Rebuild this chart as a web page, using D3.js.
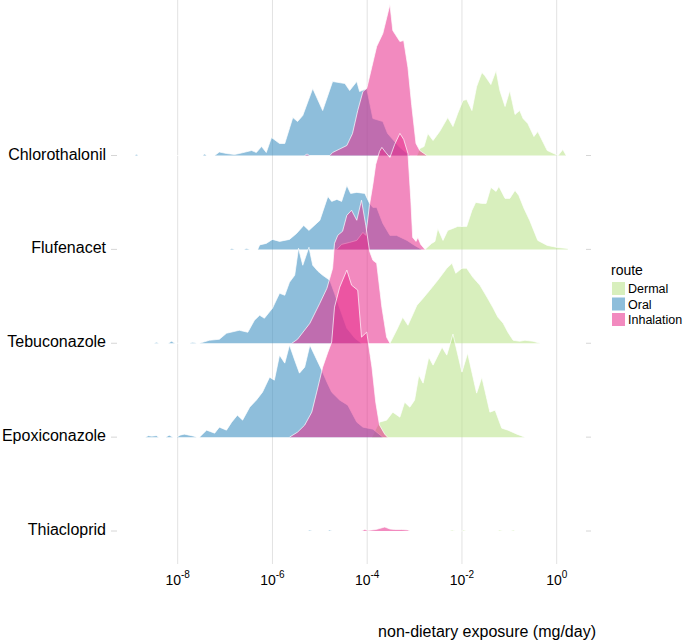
<!DOCTYPE html>
<html>
<head>
<meta charset="utf-8">
<script src="https://cdn.jsdelivr.net/npm/d3@7"></script>
<style>
  body { margin: 0; background: #fff; }
  svg { display: block; font-family: "Liberation Sans", Arial, sans-serif; }
</style>
</head>
<body>
<svg id="chart" width="685" height="640"></svg>
<script>
// categories, top to bottom
const compounds = ["Chlorothalonil", "Flufenacet", "Tebuconazole", "Epoxiconazole", "Thiacloprid"];
const routes = ["Dermal", "Oral", "Inhalation"];
const routeColors = ["#b8e186", "#4393c3", "#e7298a"];
const xTickExponents = [-8, -6, -4, -2, 0];

// [log10 exposure (mg/day), scaled density]
const chlorothalonilDermal = [[-2.95,0],[-2.89,.07],[-2.80,.09],[-2.72,.22],[-2.61,.15],[-2.47,.24],[-2.30,.38],[-2.19,.29],[-2.09,.42],[-1.98,.55],[-1.90,.56],[-1.79,.45],[-1.69,.69],[-1.58,.83],[-1.52,.80],[-1.39,.71],[-1.28,.85],[-1.20,.65],[-1.09,.49],[-0.99,.65],[-0.88,.41],[-0.78,.45],[-0.71,.37],[-0.61,.32],[-0.48,.19],[-0.40,.24],[-0.20,.05],[-0.04,.015],[0.03,0],[0.13,.06],[0.20,0]];
const chlorothalonilOral = [[-8.90,0],[-8.87,.015],[-8.84,0],[-7.47,0],[-7.43,.015],[-7.39,0],[-7.22,0],[-7.12,.035],[-6.97,.02],[-6.80,.01],[-6.70,.02],[-6.44,.05],[-6.34,.03],[-6.23,.09],[-6.13,.03],[-6.02,.18],[-5.85,.12],[-5.74,.12],[-5.57,.38],[-5.47,.34],[-5.36,.40],[-5.15,.67],[-4.94,.45],[-4.73,.74],[-4.47,.72],[-4.37,.65],[-4.22,.74],[-4.16,.64],[-4.01,.67],[-3.88,.37],[-3.67,.34],[-3.57,.22],[-3.31,.08],[-3.10,0]];
const chlorothalonilInhalation = [[-5.32,0],[-5.27,.015],[-5.22,0],[-4.79,0],[-4.73,.03],[-4.43,.10],[-4.31,.22],[-4.20,.45],[-4.09,.64],[-4.01,.67],[-3.90,.89],[-3.80,1.09],[-3.67,1.22],[-3.52,1.51],[-3.46,1.25],[-3.31,1.14],[-3.23,1.15],[-3.14,.88],[-3.06,.50],[-2.97,.12],[-2.89,.05],[-2.74,0]];

const flufenacetDermal = [[-2.78,0],[-2.64,.06],[-2.57,.08],[-2.51,.21],[-2.40,.09],[-2.30,.19],[-2.19,.21],[-2.09,.23],[-1.90,.23],[-1.79,.39],[-1.71,.47],[-1.58,.46],[-1.49,.46],[-1.39,.62],[-1.28,.58],[-1.22,.63],[-1.09,.51],[-0.99,.51],[-0.88,.59],[-0.80,.54],[-0.69,.41],[-0.57,.29],[-0.40,.09],[-0.20,.04],[0.01,.02],[0.22,.01],[0.24,0]];
const flufenacetOral = [[-6.90,0],[-6.86,.01],[-6.80,0],[-6.60,0],[-6.55,.01],[-6.48,0],[-6.31,0],[-6.27,.045],[-6.13,.06],[-6.00,.10],[-5.85,.08],[-5.64,.10],[-5.49,.16],[-5.34,.24],[-5.23,.19],[-5.00,.29],[-4.83,.53],[-4.75,.48],[-4.64,.50],[-4.54,.48],[-4.43,.64],[-4.35,.56],[-4.22,.57],[-4.05,.56],[-3.95,.46],[-3.88,.42],[-3.80,.42],[-3.67,.26],[-3.52,.14],[-3.38,.14],[-3.16,.09],[-3.00,.04],[-2.85,0]];
const flufenacetInhalation = [[-4.64,0],[-4.54,.05],[-4.37,.07],[-4.22,.09],[-4.09,.17],[-4.03,.14],[-3.95,.45],[-3.88,.65],[-3.82,.85],[-3.74,.98],[-3.69,1.02],[-3.61,.97],[-3.52,.92],[-3.42,1.05],[-3.31,1.16],[-3.23,1.10],[-3.14,.96],[-3.08,.50],[-3.04,.12],[-2.97,.08],[-2.93,.12],[-2.87,.05],[-2.78,0]];

const tebuconazoleDermal = [[-3.52,0],[-3.38,.13],[-3.25,.26],[-3.14,.18],[-2.95,.38],[-2.82,.45],[-2.68,.53],[-2.51,.63],[-2.32,.75],[-2.21,.80],[-2.13,.70],[-2.00,.75],[-1.90,.75],[-1.77,.66],[-1.62,.58],[-1.47,.46],[-1.35,.36],[-1.24,.26],[-1.13,.20],[-1.03,.11],[-0.92,.03],[-0.78,.02],[-0.67,.03],[-0.50,.02],[-0.35,0]];
const tebuconazoleOral = [[-8.50,0],[-8.45,.01],[-8.40,0],[-8.20,0],[-8.13,.02],[-8.06,0],[-7.75,0],[-7.68,.01],[-7.60,0],[-7.54,0],[-7.33,.03],[-7.12,.04],[-6.97,.10],[-6.70,.13],[-6.52,.11],[-6.38,.23],[-6.27,.28],[-6.17,.25],[-6.00,.35],[-5.85,.50],[-5.74,.48],[-5.64,.61],[-5.53,.68],[-5.45,.95],[-5.36,.78],[-5.23,.96],[-5.15,.78],[-5.04,.72],[-4.94,.68],[-4.79,.63],[-4.69,.50],[-4.58,.35],[-4.43,.15],[-4.26,.05],[-4.12,0]];
const tebuconazoleInhalation = [[-5.59,0],[-5.47,.04],[-5.21,.20],[-5.00,.40],[-4.85,.55],[-4.79,.65],[-4.73,.75],[-4.69,1.00],[-4.62,1.08],[-4.52,1.12],[-4.43,1.28],[-4.33,1.33],[-4.22,1.23],[-4.12,1.43],[-4.03,1.18],[-3.95,.92],[-3.88,.83],[-3.80,.80],[-3.69,.36],[-3.59,.06],[-3.52,0]];

const epoxiconazoleDermal = [[-3.90,0],[-3.82,.08],[-3.74,.15],[-3.59,.17],[-3.46,.25],[-3.31,.20],[-3.21,.35],[-3.10,.30],[-3.00,.37],[-2.91,.62],[-2.82,.54],[-2.70,.80],[-2.61,.72],[-2.42,.90],[-2.32,.82],[-2.19,1.03],[-2.00,.65],[-1.88,.84],[-1.69,.44],[-1.58,.60],[-1.41,.25],[-1.30,.27],[-1.16,.09],[-1.03,.07],[-0.84,.03],[-0.67,0]];
const epoxiconazoleOral = [[-8.68,0],[-8.62,.015],[-8.55,.01],[-8.45,.015],[-8.40,0],[-8.25,0],[-8.18,.02],[-8.10,0],[-8.02,0],[-7.95,.02],[-7.86,.03],[-7.76,.02],[-7.66,.01],[-7.60,0],[-7.54,0],[-7.39,.07],[-7.22,.04],[-7.12,.10],[-6.97,.07],[-6.86,.15],[-6.74,.22],[-6.63,.17],[-6.48,.30],[-6.34,.37],[-6.21,.45],[-6.06,.60],[-5.96,.57],[-5.85,.82],[-5.74,.74],[-5.64,.92],[-5.53,.77],[-5.43,.64],[-5.32,.70],[-5.21,.92],[-5.11,.82],[-4.96,.67],[-4.85,.55],[-4.75,.45],[-4.58,.37],[-4.41,.32],[-4.22,.15],[-4.09,.10],[-3.88,.08],[-3.67,0]];
const epoxiconazoleInhalation = [[-5.64,0],[-5.47,.05],[-5.32,.12],[-5.17,.25],[-5.04,.50],[-4.94,.70],[-4.83,.85],[-4.75,.95],[-4.69,1.30],[-4.58,1.50],[-4.43,1.67],[-4.33,1.52],[-4.20,1.47],[-4.12,1.00],[-4.01,1.05],[-3.90,.70],[-3.82,.35],[-3.74,.12],[-3.63,.03],[-3.57,0]];

const thiaclopridDermal = [[-2.25,0],[-2.21,.01],[-2.15,0],[-2.00,0],[-1.96,.01],[-1.92,0],[-1.24,0],[-1.20,.01],[-1.15,0],[-0.96,0],[-0.92,.01],[-0.88,0]];
const thiaclopridOral = [[-5.25,0],[-5.21,.01],[-5.17,0],[-4.83,0],[-4.79,.01],[-4.75,0]];
const thiaclopridInhalation = [[-4.12,0],[-4.05,.015],[-3.99,.005],[-3.90,.01],[-3.82,.015],[-3.74,.025],[-3.63,.04],[-3.52,.02],[-3.42,.015],[-3.27,.015],[-3.14,.01],[-3.10,0]];

const series = [
  { compound: "Chlorothalonil", values: [chlorothalonilDermal, chlorothalonilOral, chlorothalonilInhalation] },
  { compound: "Flufenacet", values: [flufenacetDermal, flufenacetOral, flufenacetInhalation] },
  { compound: "Tebuconazole", values: [tebuconazoleDermal, tebuconazoleOral, tebuconazoleInhalation] },
  { compound: "Epoxiconazole", values: [epoxiconazoleDermal, epoxiconazoleOral, epoxiconazoleInhalation] },
  { compound: "Thiacloprid", values: [thiaclopridDermal, thiaclopridOral, thiaclopridInhalation] }
];

const fillOpacity = [0.55, 0.6, 0.55];

const svg = d3.select("#chart");
const panelLeft = 118, panelRight = 596, panelBottom = 564;

const x = d3.scaleLog().domain([1e-8, 1]).range([177.7, 556.7]);
const y = d3.scalePoint().domain(compounds).range([155.5, 531]);
const h = d3.scaleLinear().domain([0, 1]).range([0, 100]);

// vertical grid
svg.append("g")
  .selectAll("line")
  .data(xTickExponents)
  .enter()
  .append("line")
  .attr("x1", d => x(Math.pow(10, d)))
  .attr("x2", d => x(Math.pow(10, d)))
  .attr("y1", 0)
  .attr("y2", panelBottom)
  .attr("stroke", "#e2e2e2")
  .attr("stroke-width", 1);

// y ticks (left) and the little end marks on the right
const ticks = svg.append("g").attr("stroke", "#d6d6d6").attr("stroke-width", 1);
ticks.selectAll("line.l")
  .data(compounds)
  .enter()
  .append("line")
  .attr("x1", panelLeft - 7).attr("x2", panelLeft - 1)
  .attr("y1", d => y(d)).attr("y2", d => y(d));
ticks.selectAll("line.r")
  .data(compounds)
  .enter()
  .append("line")
  .attr("x1", panelRight - 10).attr("x2", panelRight - 5)
  .attr("y1", d => y(d)).attr("y2", d => y(d));

// ridges: upper rows first, lower rows drawn over them
const ridges = svg.append("g");
series.forEach(s => {
  const base = y(s.compound);
  s.values.forEach((vals, i) => {
    const area = d3.area()
      .x(d => x(Math.pow(10, d[0])))
      .y0(base)
      .y1(d => base - h(d[1]));
    const line = d3.line()
      .defined((d, j, arr) => d[1] > 0 || (arr[j - 1] && arr[j - 1][1] > 0) || (arr[j + 1] && arr[j + 1][1] > 0))
      .x(d => x(Math.pow(10, d[0])))
      .y(d => base - h(d[1]));

    ridges.append("path")
      .datum(vals)
      .attr("d", area)
      .attr("fill", routeColors[i])
      .attr("fill-opacity", fillOpacity[i]);
    ridges.append("path")
      .datum(vals)
      .attr("d", line)
      .attr("fill", "none")
      .attr("stroke", "#fff")
      .attr("stroke-width", 0.7);
  });
});

// category labels
svg.append("g")
  .attr("font-size", 16)
  .attr("text-anchor", "end")
  .selectAll("text")
  .data(compounds)
  .enter()
  .append("text")
  .attr("x", panelLeft - 12)
  .attr("y", d => y(d) + 4)
  .attr("fill", "#000")
  .text(d => d);

// x tick labels 10^n
const xl = svg.append("g")
  .attr("text-anchor", "middle")
  .selectAll("text")
  .data(xTickExponents)
  .enter()
  .append("text")
  .attr("x", d => x(Math.pow(10, d)))
  .attr("y", 585)
  .attr("font-size", 14)
  .attr("fill", "#000");
xl.append("tspan").text("10");
xl.append("tspan")
  .attr("dy", -7)
  .attr("font-size", 10)
  .text(d => d);

svg.append("text")
  .attr("x", panelRight)
  .attr("y", 637)
  .attr("text-anchor", "end")
  .attr("font-size", 16)
  .attr("fill", "#000")
  .text("non-dietary exposure (mg/day)");

// legend
const legend = svg.append("g").attr("transform", "translate(611,0)");
legend.append("text")
  .attr("x", 0)
  .attr("y", 275)
  .attr("font-size", 14)
  .attr("fill", "#000")
  .text("route");
const item = legend.selectAll("g.item")
  .data(routes)
  .enter()
  .append("g")
  .attr("transform", (d, i) => `translate(1,${282 + i * 15.5})`);
item.append("rect")
  .attr("width", 13)
  .attr("height", 13)
  .attr("fill", (d, i) => routeColors[i])
  .attr("fill-opacity", (d, i) => fillOpacity[i]);
item.append("text")
  .attr("x", 16)
  .attr("y", 11)
  .attr("font-size", 12.5)
  .attr("fill", "#000")
  .text(d => d);
</script>
</body>
</html>
